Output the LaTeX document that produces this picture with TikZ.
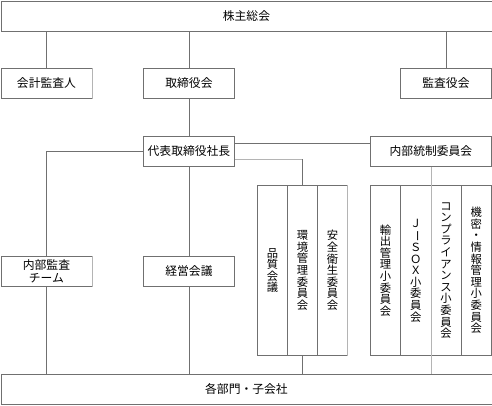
\documentclass[tikz,border=0pt]{standalone}
\usepackage{fontspec}
\usepackage{graphicx}
\newfontfamily\cjk{Noto Sans CJK JP}
\definecolor{ln}{HTML}{707070}
\definecolor{lg}{HTML}{B4B4B4}
\newcommand{\vbar}{\rotatebox[origin=c]{-90}{ー}}
\begin{document}
\begin{tikzpicture}[x=1pt,y=-1pt,
  box/.style={draw=ln,line width=0.9pt,inner sep=0pt,anchor=north west,
    font=\cjk\fontsize{11.8}{12.5}\selectfont,align=center},
  wbox/.style={box,minimum width=91pt,minimum height=30pt},
  col/.style={box,minimum width=30pt,minimum height=170pt,
    font=\cjk\fontsize{11.3}{11.6}\selectfont},
  colw/.style={col,minimum width=30.25pt},
  conn/.style={draw=ln,line width=0.9pt},
  lconn/.style={draw=lg,line width=0.9pt}]
\useasboundingbox (0,0) rectangle (492,405);
\node[box,minimum width=491pt,minimum height=30pt] (kabu) at (0.5,0.5) {株主総会};
\node[wbox] (kaikei) at (0.5,68) {会計監査人};
\node[wbox] (tori) at (143,68) {取締役会};
\node[wbox] (kansa) at (400,68) {監査役会};
\node[wbox] (daihyo) at (143,136) {代表取締役社長};
\node[box,minimum width=121pt,minimum height=30pt] (tosei) at (370,136) {内部統制委員会};
\node[wbox] (naibu) at (0.5,256) {内部監査\\チーム};
\node[wbox] (keiei) at (143,256) {経営会議};
\node[box,minimum width=491pt,minimum height=30pt] (bottom) at (0.5,373.5) {各部門・子会社};
% group 1
\node[col] (g1a) at (257,185) {品\\質\\会\\議};
\node[col] (g1b) at (287,185) {環\\境\\管\\理\\委\\員\\会};
\node[col] (g1c) at (317,185) {安\\全\\衛\\生\\委\\員\\会};
% group 2
\node[colw] (g2a) at (370,185) {輸\\出\\管\\理\\小\\委\\員\\会};
\node[colw] (g2b) at (400.25,185) {Ｊ\\\vbar\\Ｓ\\Ｏ\\Ｘ\\小\\委\\員\\会};
\node[colw] (g2c) at (430.5,185) {コ\\ン\\プ\\ラ\\イ\\ア\\ン\\ス\\小\\委\\員\\会};
\node[colw] (g2d) at (460.75,185) {機\\密\\・\\情\\報\\管\\理\\小\\委\\員\\会};
% connectors
\draw[conn] (kaikei.north |- kabu.south) -- (kaikei.north);
\draw[conn] (tori.north |- kabu.south) -- (tori.north);
\draw[conn] (kansa.north |- kabu.south) -- (kansa.north);
\draw[conn] (tori.south) -- (daihyo.north);
\draw[conn] (daihyo.west) -| (naibu.north);
\draw[conn] (daihyo.south) -- (keiei.north);
\draw[conn] (naibu.south) -- (naibu.south |- bottom.north);
\draw[conn] (keiei.south) -- (keiei.south |- bottom.north);
\draw[conn] ([yshift=8pt]daihyo.east) -- ([yshift=8pt]daihyo.east -| tosei.west);
\draw[lconn] ([yshift=-8pt]daihyo.east) -- ([yshift=-8pt]daihyo.east -| g1b.north);
\draw[conn] ([yshift=-8pt]daihyo.east -| g1b.north) -- (g1b.north);
\draw[conn] (g1b.south) -- (g1b.south |- bottom.north);
\draw[lconn] (tosei.south) -- (tosei.south |- bottom.north);
% light right edges
\draw[lconn] (g1c.north east) -- (g1c.south east);
\draw[lconn] (kaikei.north east) -- (kaikei.south east);
\draw[lconn] (naibu.north east) -- (naibu.south east);
\end{tikzpicture}
\end{document}
